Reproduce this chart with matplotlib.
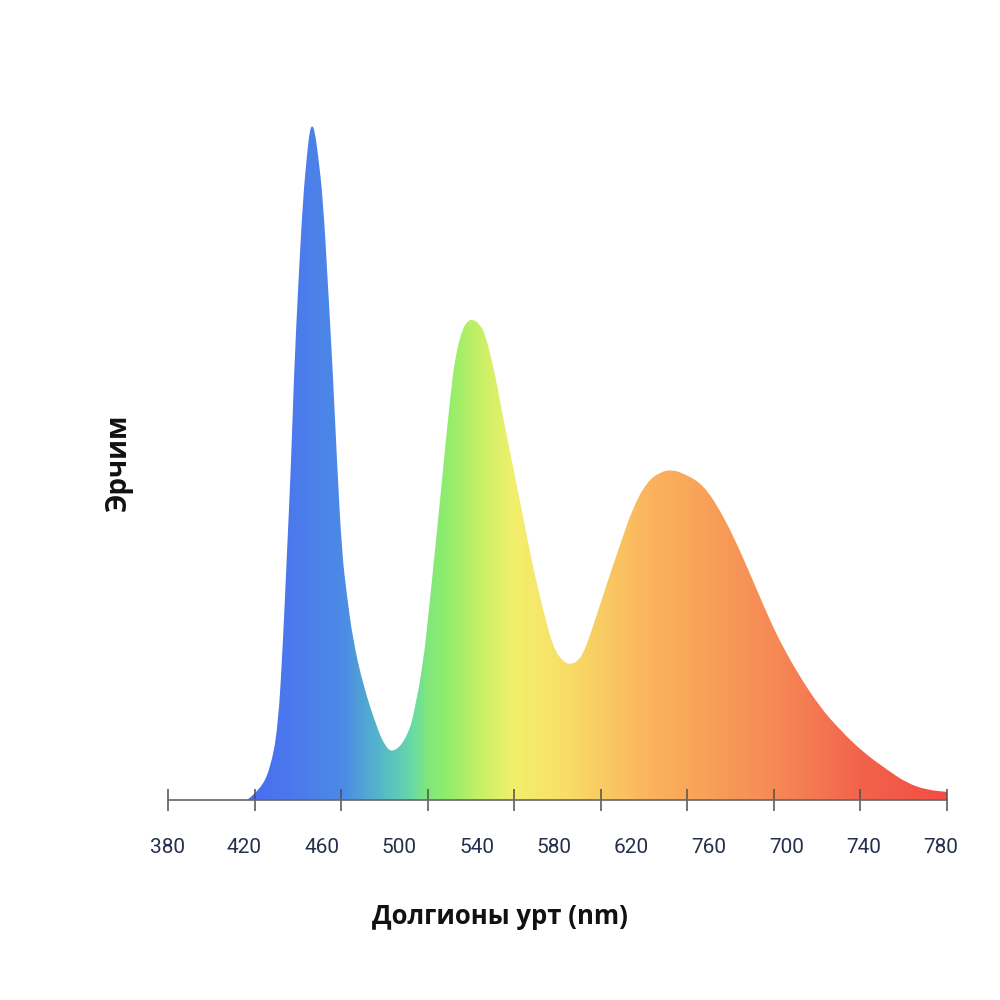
import numpy as np
import matplotlib
matplotlib.use("Agg")
import matplotlib.pyplot as plt
from matplotlib.colors import LinearSegmentedColormap
from matplotlib.patches import PathPatch
from matplotlib.path import Path
import matplotlib.transforms as mtransforms

# ---- data ----
wavelength = [420.6, 427.2, 432.4, 436.5, 439.1, 441.1, 443.2, 444.7, 446.8, 449.3,
              451.4, 452.7, 453.9, 455.3, 457.0, 459.6, 462.2, 464.7, 466.8, 469.3,
              471.9, 475.0, 480.1, 487.3, 491.5, 495.0, 500.2, 504.3, 505.8, 510.9,
              514.5, 517.1, 519.7, 522.2, 524.8, 527.4, 531.0, 533.8, 536.6, 539.6,
              542.8, 547.9, 552.0, 557.2, 562.3, 567.4, 572.6, 577.7, 582.8, 587.4,
              592.6, 598.2, 605.4, 612.1, 618.8, 626.0, 632.6, 638.8, 646.5, 654.7,
              661.9, 668.6, 675.3, 682.4, 689.1, 695.8, 704.5, 714.8, 725.1, 736.9,
              749.2, 759.5, 769.7, 780.0]
intensity = [0.0, 1.5, 4.5, 10.7, 23.8, 36.8, 50.1, 63.2, 76.2, 89.3,
             96.0, 99.3, 100.3, 99.5, 96.0, 89.3, 76.2, 63.2, 50.1, 36.8,
             30.3, 23.8, 17.2, 10.7, 8.0, 7.1, 8.2, 10.7, 12.3, 19.8,
             29.7, 37.1, 44.6, 52.0, 59.4, 65.8, 69.8, 71.2, 71.4, 70.8,
             69.4, 63.4, 56.9, 49.5, 42.1, 34.6, 28.2, 22.7, 20.5, 20.1,
             21.2, 25.7, 32.2, 37.9, 43.5, 47.3, 48.7, 49.1, 48.3, 46.8,
             43.8, 40.2, 36.0, 31.2, 26.7, 22.7, 18.3, 13.8, 10.4, 7.1,
             4.5, 2.5, 1.5, 1.2]

tick_values = [380 + k * 400 / 9 for k in range(10)]
tick_labels = ["380", "420", "460", "500", "540", "580", "620", "760", "700", "740", "780"]
x_label = "Долгионы урт (nm)"
y_label = "Эрчим"

# gradient colour stops (wavelength, colour)
stop_w = [380.0, 424.7, 468.8, 488.9, 504.3, 513.0, 524.8, 540.2, 558.2, 581.3,
          602.3, 627.5, 647.0, 668.6, 691.7, 714.8, 735.8, 780.0]
stop_c = ["#4a6cf0", "#4a6ef0", "#4c8ae6", "#55b8c8", "#66d8a8", "#80e87a", "#94ee6a",
          "#c8f066", "#f3ef6c", "#f8e068", "#f9cc62", "#fbb45e", "#f9a858", "#f79858",
          "#f68a55", "#f47652", "#f3634c", "#f24e44"]

# ---- figure ----
fig = plt.figure(figsize=(10, 10), dpi=100)
ax = fig.add_axes([0.168, 0.2, 0.779, 0.7])
ymax = 104.0
ax.set_xlim(380, 780)
ax.set_ylim(0, ymax)

# smooth outline: data points used as quadratic Bezier control points
pts = list(zip(wavelength, intensity))
verts = [(wavelength[0], 0.0), pts[0]]
codes = [Path.MOVETO, Path.LINETO]
for i in range(1, len(pts) - 1):
    mid = ((pts[i][0] + pts[i + 1][0]) / 2, (pts[i][1] + pts[i + 1][1]) / 2)
    verts += [pts[i], mid]
    codes += [Path.CURVE3, Path.CURVE3]
verts += [pts[-1], (wavelength[-1], 0.0), (wavelength[0], 0.0)]
codes += [Path.LINETO, Path.LINETO, Path.CLOSEPOLY]
outline = PathPatch(Path(verts, codes), facecolor="none", edgecolor="none",
                    transform=ax.transData)
ax.add_patch(outline)

# gradient fill clipped to the spectrum shape
wmin, wmax = stop_w[0], stop_w[-1]
pos = [(w - wmin) / (wmax - wmin) for w in stop_w]
cmap = LinearSegmentedColormap.from_list("spec", list(zip(pos, stop_c)))
grad = np.linspace(0, 1, 800).reshape(1, -1)
im = ax.imshow(grad, cmap=cmap, aspect="auto", extent=[wmin, wmax, 0, ymax],
               origin="lower", zorder=1, interpolation="bilinear")
im.set_clip_path(outline)

# axis line and ticks
for s in ["top", "right", "left"]:
    ax.spines[s].set_visible(False)
ax.spines["bottom"].set_color("#666666")
ax.spines["bottom"].set_linewidth(1.2)
ax.spines["bottom"].set_zorder(3)
ax.set_yticks([])
ax.set_xticks(tick_values)
ax.tick_params(axis="x", direction="inout", length=16, width=1.1, color="#505050",
               labelbottom=False)

# tick labels (not aligned with tick marks in the original)
trans = mtransforms.blended_transform_factory(ax.transData, ax.transAxes)
label_pos = np.linspace(379.5, 777.0, len(tick_labels))
for xp, lab in zip(label_pos, tick_labels):
    ax.text(xp, -0.068, lab, transform=trans, ha="center", va="center",
            fontsize=15, color="#26304d", family=["Roboto", "DejaVu Sans"])

fig.text(0.50, 0.083, x_label, ha="center", va="center", fontsize=18.5,
         fontweight="bold", family=["Open Sans", "DejaVu Sans"], color="#111111")
fig.text(0.118, 0.538, y_label, ha="center", va="center", rotation=90, fontsize=20,
         fontweight="bold", family=["Open Sans", "DejaVu Sans"], color="#111111")

fig.savefig("out.png", dpi=100, facecolor="white")
